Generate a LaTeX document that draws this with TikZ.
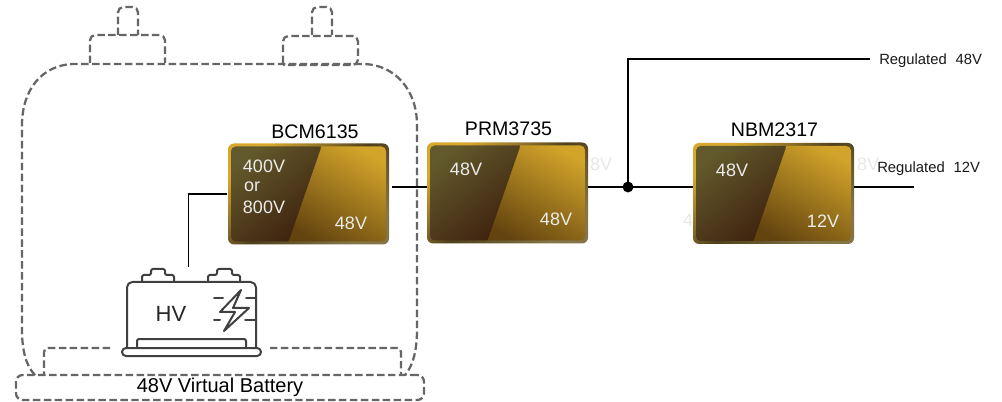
\documentclass[tikz,border=0pt]{standalone}
\usepackage{fontspec}
\setmainfont{Liberation Sans}
\definecolor{dashgray}{HTML}{666666}
\definecolor{icongray}{HTML}{404040}
\definecolor{bordergold}{HTML}{D8A82C}
\definecolor{bordermid}{HTML}{8A6E2A}
\definecolor{borderdark}{HTML}{4F3F1C}
\definecolor{borderend}{HTML}{857546}
\definecolor{lightlow}{HTML}{63440F}
\definecolor{lighthigh}{HTML}{D2A42A}
\definecolor{darkhigh}{HTML}{625A2C}
\definecolor{darklow}{HTML}{3E200E}
\pgfdeclareverticalshading{bordershade}{100bp}{
  color(0bp)=(borderend); color(25bp)=(borderend); color(50bp)=(borderdark);
  color(60bp)=(bordermid); color(75bp)=(bordergold); color(100bp)=(bordergold)}
\tikzset{
  x=0.75pt,y=-0.75pt,
  dashline/.style={draw=dashgray,line width=1.7pt,dash pattern=on 5.6pt off 2.6pt,line join=round},
  wire/.style={draw=black,line width=1.05pt},
  icon/.style={draw=icongray,line width=1.5pt,line join=round,line cap=round},
  title/.style={font=\fontsize{14.7}{16}\selectfont,text=black,inner sep=0pt},
  volt/.style={font=\fontsize{13.5}{15}\selectfont,text=white!92!black,inner sep=0pt,align=left},
  ghost/.style={font=\fontsize{13.5}{15}\selectfont,text=black!9,inner sep=0pt},
  reg/.style={font=\fontsize{11.1}{13}\selectfont,text=black!90,inner sep=0pt},
  module/.style={rounded corners=4.5pt,minimum width=120.75pt,minimum height=75.75pt,inner sep=0pt,
    path picture={
      \shade[shading=bordershade,shading angle=40]
        (-80.5,-50.5) rectangle (80.5,50.5);
      \begin{scope}
        \clip[rounded corners=3.5pt] (-77.5,-47.5) rectangle (77.5,47.5);
        \shade[left color=lightlow,right color=lighthigh,shading angle=150] (-26,-50.5) rectangle (80.5,50.5);
        \shade[left color=darkhigh,right color=darklow,shading angle=40] (-80.5,-50.5) -- (14,-50.5) -- (-21,50.5) -- (-80.5,50.5) -- cycle;
      \end{scope}
    }},
}
\begin{document}
\begin{tikzpicture}
\useasboundingbox (0,0) rectangle (1002,402);
\fill[white] (0,0) rectangle (1002,402);

% dashed outer battery
\draw[dashline] (35,375) .. controls (26,366) and (22,350) .. (22,330) -- (22,125)
  .. controls (22,90) and (42,64) .. (75,64) -- (362,64)
  .. controls (395,64) and (417,90) .. (417,125) -- (417,330)
  .. controls (417,350) and (413,366) .. (405,375);
\draw[dashline,rounded corners=4pt] (90,63) -- (90,35) -- (165,35) -- (165,63);
\draw[dashline,rounded corners=4pt] (118,35) -- (118,7) -- (138,7) -- (138,35);
\draw[dashline,rounded corners=4pt] (283,63) -- (283,36) -- (358,36) -- (358,65) -- (283,65);
\draw[dashline,rounded corners=4pt] (312,35) -- (312,7) -- (332,7) -- (332,35);
\draw[dashline,rounded corners=3pt] (110,348) -- (44,348) -- (44,375);
\draw[dashline,rounded corners=3pt] (270,348) -- (401,348) -- (401,375);
\node[dashline,rounded corners=5pt,minimum width=306pt,minimum height=18.75pt,inner sep=0pt,
  font=\fontsize{15}{17}\selectfont] (virt) at (220,387.5) {48V Virtual Battery};

% HV battery icon
\draw[icon,rounded corners=4pt] (127,348) -- (127,282) -- (256,282) -- (256,348);
\node[icon,rounded corners=3pt,minimum width=104.25pt,minimum height=6pt,inner sep=0pt] (hvbase) at (191.5,352) {};
\draw[icon,rounded corners=1.5pt] (137,348) -- (137,339) -- (246,339) -- (246,348);
\draw[icon,rounded corners=1.5pt] (142,282) -- (142,275) -- (151,275) -- (151,269) -- (165,269) -- (165,275) -- (174,275) -- (174,282);
\draw[icon,rounded corners=1.5pt] (208,282) -- (208,275) -- (217,275) -- (217,269) -- (232,269) -- (232,275) -- (240,275) -- (240,282);
\draw[icon] (214,298) -- (223,298) (246,298) -- (255,298) (214,320) -- (220,320) (245,320) -- (255,320);
\draw[icon,fill=white] (241,290) -- (220,312) -- (235,312) -- (224,331) -- (249,308) -- (233,308) -- cycle;
\node[inner sep=0pt,font=\fontsize{16.5}{20}\selectfont,text=black!85] (hvlabel) at (171,314) {HV};

% faint stray labels
\node[ghost] (g1) at (601,164) {8V};
\node[ghost] (g2) at (868,164) {8V};
\node[ghost] (g3) at (688,220) {4};

% modules
\node[module] (bcm) at (308.5,194) {};
\node[module] (prm) at (507.5,193) {};
\node[module] (nbm) at (773.5,193.5) {};

\node[title] (bcmt) at (315,132) {BCM6135};
\node[title] (prmt) at (508.5,129) {PRM3735};
\node[title] (nbmt) at (774.5,129.5) {NBM2317};

\node[volt] (v1) at (264,166) {400V};
\node[volt] (v2) at (252,187) {or};
\node[volt] (v3) at (264,207) {800V};
\node[volt] (v4) at (351,223) {48V};
\node[volt] (v5) at (466,169) {48V};
\node[volt] (v6) at (556,219) {48V};
\node[volt] (v7) at (732,170) {48V};
\node[volt] (v8) at (823,221) {12V};

\node[reg,anchor=west] (r48) at (879,60.5) {Regulated\hspace{0.33em} 48V};
\node[reg,anchor=west] (r12) at (877,168.5) {Regulated\hspace{0.33em} 12V};

% connectors
\coordinate (bcmin) at (226.5,194);
\coordinate (hvtop) at (188.5,267);
\coordinate (bcmout) at (392,187);
\coordinate (prmin) at (prm.west |- bcmout);
\coordinate (prmout) at (prm.east |- bcmout);
\coordinate (nbmin) at (nbm.west |- bcmout);
\coordinate (nbmout) at (nbm.east |- bcmout);
\coordinate (out12) at (914,187);
\coordinate (out48) at (870,59);
\coordinate (jct) at (628,187);
\draw[wire] (bcmin) -| (hvtop);
\draw[wire] (bcmout) -- (prmin);
\draw[wire] (prmout) -- (jct);
\draw[wire] (jct) -- (nbmin);
\draw[wire] (nbmout) -- (out12);
\draw[wire] (jct) |- (out48);
\fill[black] (jct) circle[radius=4.1pt];
\end{tikzpicture}
\end{document}
